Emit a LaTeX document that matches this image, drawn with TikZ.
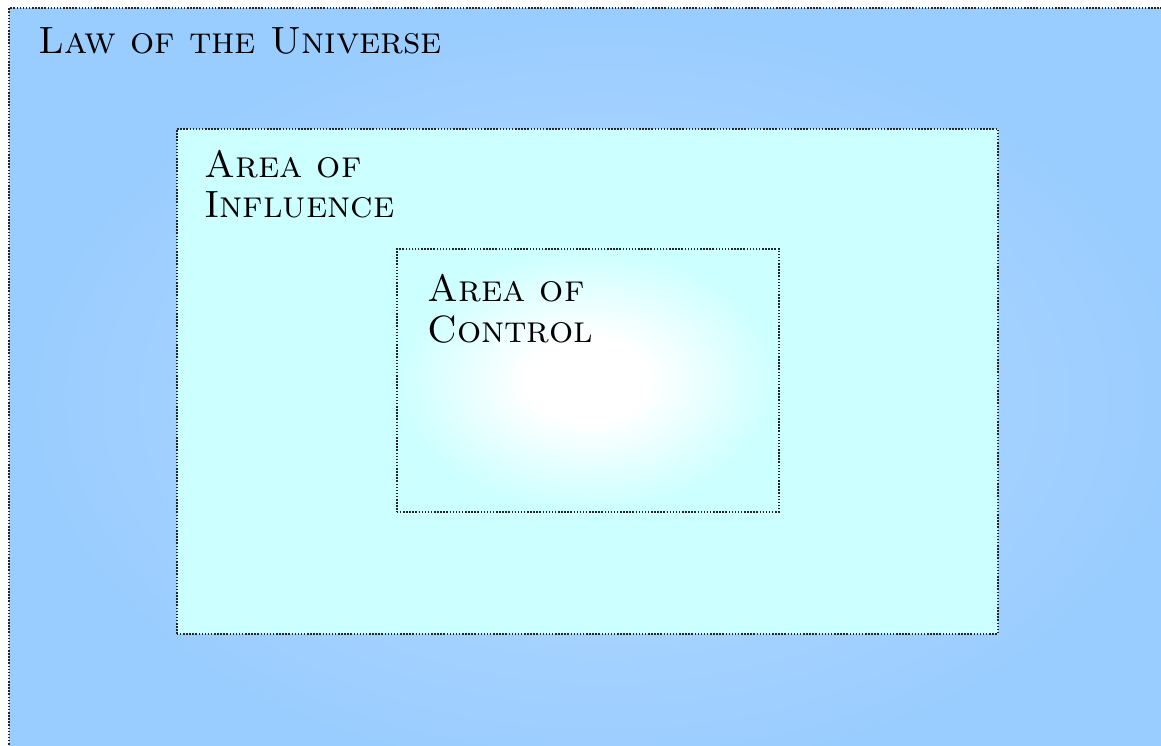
\documentclass[tikz,border=0pt]{standalone}
\usepackage{graphicx}
\definecolor{outerblue}{HTML}{99CCFF}
\definecolor{outerlight}{HTML}{B8DCFF}
\definecolor{midcyan}{HTML}{CCFFFF}
\pgfdeclareradialshading{ctrlshade}{\pgfpoint{0bp}{0bp}}{%
  color(0bp)=(white); color(8bp)=(white); color(25bp)=(midcyan); color(50bp)=(midcyan)}
\tikzset{
  dotbox/.style={draw=black!85, line width=1.6pt, dash pattern=on 1.5pt off 1.6pt},
  lbl/.style={anchor=base west, inner sep=0pt, font=\fontsize{38}{44}\selectfont\scshape, align=left}
}
\begin{document}
\begin{tikzpicture}[x=1pt,y=-1pt]
\useasboundingbox (0,0) rectangle (1161,745);
\fill[white] (0,0) rectangle (1161,745);
% outer area
\shade[inner color=outerlight, outer color=outerblue] (9,8) rectangle (1200,790);
\draw[dotbox] (9,760) -- (9,8) -- (1170,8);
% middle area
\node[dotbox, fill=midcyan, minimum width=821pt, minimum height=505pt, inner sep=0pt, anchor=north west] (influence) at (176,128) {};
% inner area
\shade[shading=ctrlshade] (396,248) rectangle (778,511);
\node[dotbox, minimum width=382pt, minimum height=263pt, inner sep=0pt, anchor=north west] (control) at (396,248) {};
% labels
\node[lbl] (lawlbl) at (38,53) {Law of the Universe};
\node[lbl] (inflA) at (204,177) {Area of};
\node[lbl] (inflB) at (204,217) {Influence};
\node[lbl] (ctrlA) at (427,301) {Area of};
\node[lbl] (ctrlB) at (427,342) {Control};
\end{tikzpicture}
\end{document}
